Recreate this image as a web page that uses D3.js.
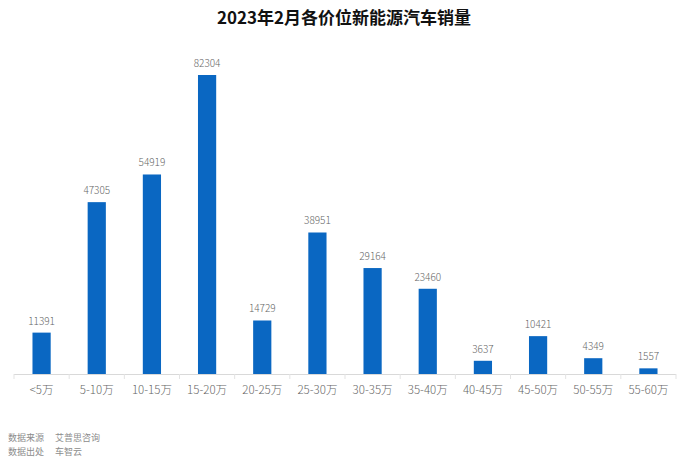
<!DOCTYPE html>
<html><head><meta charset="utf-8">
<script src="https://cdn.jsdelivr.net/npm/d3@7/dist/d3.min.js"></script>
<style>body{margin:0;background:#fff;}svg{display:block;}</style>
</head><body>
<svg id="c" width="688" height="461"></svg>
<script>
const categories = ["<5万","5-10万","10-15万","15-20万","20-25万","25-30万","30-35万","35-40万","40-45万","45-50万","50-55万","55-60万"];
const values = [11391,47305,54919,82304,14729,38951,29164,23460,3637,10421,4349,1557];
const title = "2023年2月各价位新能源汽车销量";
const sourceLines = [["数据来源","艾普思咨询"],["数据出处","车智云"]];

const svg = d3.select("#c");
const W = 688, H = 461;
const x0 = 14, x1 = 676, yBase = 374;
const x = d3.scaleBand().domain(categories).range([x0, x1]).paddingInner(0.67).paddingOuter(0.335);
const y = d3.scaleLinear().domain([0, 82304]).range([yBase, 75]);
const font = "'Noto Sans CJK SC','Noto Sans',sans-serif";

svg.append("text").attr("x", W/2).attr("y", 24).attr("text-anchor","middle")
  .attr("font-family", font).attr("font-weight","bold").attr("font-size",17).attr("fill","#111").text(title);

svg.selectAll("rect.bar").data(values).join("rect").attr("class","bar")
  .attr("x",(d,i)=>x(categories[i])).attr("width",x.bandwidth())
  .attr("y",d=>y(d)).attr("height",d=>yBase-y(d)).attr("fill","#0a67c2");

svg.selectAll("text.val").data(values).join("text").attr("class","val")
  .attr("x",(d,i)=>x(categories[i])+x.bandwidth()/2).attr("y",d=>y(d)-8)
  .attr("text-anchor","middle").attr("font-family",font).attr("font-weight",300).attr("font-size",10).attr("fill","#666").text(d=>d);

const axis = d3.axisBottom(x).tickSize(0).tickPadding(12);
const g = svg.append("g").attr("transform",`translate(0,${yBase})`).call(axis);
g.select(".domain").attr("stroke","#d9d9d9").attr("d",`M${x0},0.5H${x1}`);
g.selectAll(".tick text").attr("font-family",font).attr("font-weight",300).attr("font-size",11.5).attr("fill","#666");
const bounds = d3.range(categories.length+1).map(i=>x0 + i*(x1-x0)/categories.length);
g.selectAll("line.sep").data(bounds).join("line").attr("class","sep")
  .attr("x1",d=>d).attr("x2",d=>d).attr("y1",0).attr("y2",5).attr("stroke","#e3e3e3");

sourceLines.forEach((l,i)=>{
  svg.append("text").attr("x",8).attr("y",441+i*14).attr("font-family",font).attr("font-size",9).attr("fill","#8c8c8c").text(l[0]);
  svg.append("text").attr("x",55).attr("y",441+i*14).attr("font-family",font).attr("font-size",9).attr("fill","#8c8c8c").text(l[1]);
});
</script>
</body></html>
